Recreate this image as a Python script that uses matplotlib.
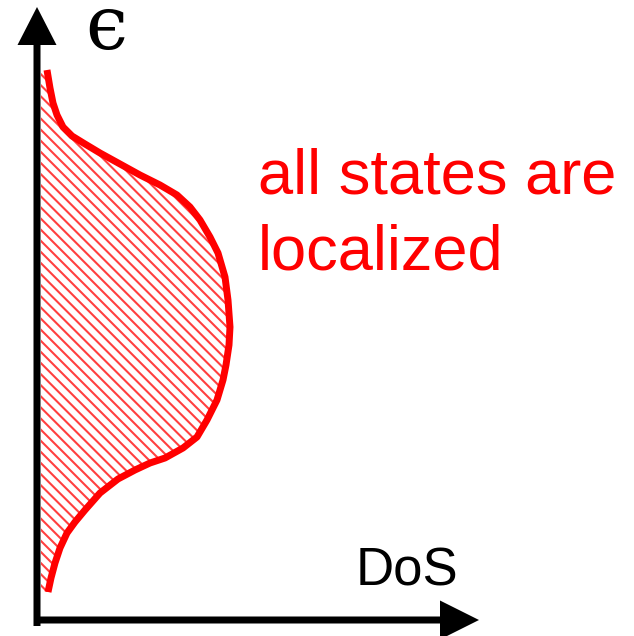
import numpy as np
import matplotlib
matplotlib.use("Agg")
import matplotlib.pyplot as plt

# schematic density of states (pixel-like units)
dos = [47, 50, 53, 57, 63, 72, 85, 100, 120, 140, 160, 177, 190, 200, 210, 218,
       225, 228, 230, 229, 226, 223, 217, 207, 197, 183, 165, 150, 135, 118,
       100, 85, 75, 67, 60, 55, 51, 48]
energy = [566, 548, 533, 521, 509, 500, 492, 483, 472, 461, 451, 441, 429, 416,
          399, 383, 359, 336, 309, 291, 271, 256, 236, 216, 199, 188, 178, 173,
          166, 157, 143, 126, 114, 103, 88, 73, 58, 44]

label_lines = ["all states are", "localized"]
x_label = "DoS"
y_label = "\u03f5"

W, H = 634, 636
plt.rcParams['hatch.linewidth'] = 1.5

fig = plt.figure(figsize=(W / 100, H / 100), dpi=100)
ax = fig.add_axes([0, 0, 1, 1])
ax.set_xlim(0, W)
ax.set_ylim(0, H)
ax.axis('off')

# hatched area under the curve
ax.fill_betweenx(energy, 41, dos, facecolor='none', edgecolor='#ff4040',
                 hatch='\\\\\\', linewidth=0, zorder=1)
ax.plot(dos, energy, color='red', lw=5, solid_capstyle='butt',
        solid_joinstyle='round', zorder=2)

# axes arrows
ax.arrow(37, 10, 0, 619, width=7, head_width=39, head_length=38,
         length_includes_head=True, color='black', lw=0, zorder=3)
ax.arrow(34, 16, 445, 0, width=7, head_width=39, head_length=39,
         length_includes_head=True, color='black', lw=0, zorder=3)

ax.text(85, 587, y_label, fontsize=54, family='DejaVu Serif',
        color='black', ha='left', va='baseline')
ax.text(356, 51, x_label, fontsize=38, family='Liberation Sans',
        color='black', ha='left', va='baseline')
for i, line in enumerate(label_lines):
    ax.text(258, 443 - 77 * i, line, fontsize=45.5, family='Liberation Sans',
            color='red', ha='left', va='baseline')

fig.savefig('out.png', dpi=100)
